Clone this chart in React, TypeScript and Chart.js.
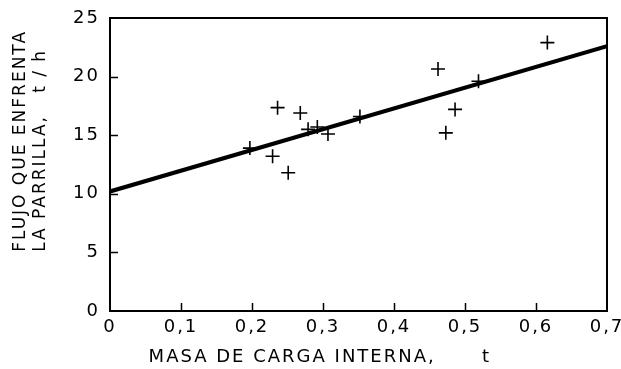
import React, { useEffect, useRef } from 'react';
import { Chart, registerables } from 'chart.js';

Chart.register(...registerables);

// Data
const masa = [0.197, 0.229, 0.236, 0.251, 0.268, 0.279, 0.292, 0.307, 0.352, 0.462, 0.473, 0.486, 0.519, 0.616];
const flujo = [13.9, 13.2, 17.35, 11.8, 16.9, 15.5, 15.7, 15.1, 16.6, 20.65, 15.2, 17.2, 19.6, 22.9];
const fitX = [0, 0.7];
const fitY = [10.2, 22.6];
const yTitle = ['        FLUJO QUE ENFRENTA', '        LA PARRILLA,   t / h'];
const xTitle = '     MASA DE CARGA INTERNA,      t';

const FONT = 'DejaVu Sans';

const framePlugin = {
  id: 'frame',
  beforeDraw(chart: any) {
    (chart.ctx as any).letterSpacing = '2px';
  },
  afterDraw(chart: any) {
    const { ctx, chartArea } = chart;
    const { left, right, top, bottom } = chartArea;
    ctx.save();
    ctx.strokeStyle = '#000';
    ctx.lineWidth = 2;
    ctx.strokeRect(left, top, right - left, bottom - top);
    ctx.lineWidth = 1.5;
    const xs = chart.scales.x;
    const ys = chart.scales.y;
    ctx.beginPath();
    xs.ticks.forEach((t: any) => {
      if (t.value <= xs.min || t.value >= xs.max - 1e-9) return;
      const px = Math.round(xs.getPixelForValue(t.value)) + 0.5;
      ctx.moveTo(px, bottom);
      ctx.lineTo(px, bottom - 8);
    });
    ys.ticks.forEach((t: any) => {
      if (t.value <= ys.min || t.value >= ys.max) return;
      const py = Math.round(ys.getPixelForValue(t.value)) + 0.5;
      ctx.moveTo(left, py);
      ctx.lineTo(left + 8, py);
    });
    ctx.stroke();
    ctx.restore();
  },
};

export default function App() {
  const ref = useRef<HTMLCanvasElement | null>(null);
  useEffect(() => {
    document.body.style.margin = '0';
    const canvas = ref.current!;
    const chart = new Chart(canvas, {
      type: 'scatter',
      data: {
        datasets: [
          {
            type: 'line',
            data: fitX.map((x, i) => ({ x, y: fitY[i] })),
            borderColor: '#000',
            borderWidth: 4,
            pointRadius: 0,
            fill: false,
          } as any,
          {
            data: masa.map((x, i) => ({ x, y: flujo[i] })),
            pointStyle: 'cross',
            pointRadius: 7,
            borderColor: '#000',
            backgroundColor: '#000',
            borderWidth: 1.6,
          },
        ],
      },
      options: {
        animation: false,
        responsive: false,
        devicePixelRatio: 1,
        layout: { padding: { top: 18, right: 14, bottom: 0, left: 0 } },
        plugins: { legend: { display: false }, tooltip: { enabled: false } },
        scales: {
          x: {
            type: 'linear',
            min: 0,
            max: 0.7,
            grid: { display: false, drawTicks: false },
            border: { display: false },
            ticks: {
              stepSize: 0.1,
              padding: 6,
              color: '#000',
              font: { family: FONT, size: 18 },
              maxRotation: 0,
              callback: (v: any) => (Number(v) === 0 ? '0' : Number(v).toFixed(1).replace('.', ',')),
            },
            title: {
              display: true,
              text: xTitle,
              align: 'start',
              color: '#000',
              font: { family: FONT, size: 18, lineHeight: 1.1 },
              padding: { top: 0, bottom: 2 },
            },
            afterFit: (s: any) => {
              s.height = 58;
              s.paddingLeft = 0;
              s.paddingRight = 0;
            },
          },
          y: {
            type: 'linear',
            min: 0,
            max: 25,
            grid: { display: false, drawTicks: false },
            border: { display: false },
            ticks: {
              stepSize: 5,
              padding: 10,
              color: '#000',
              font: { family: FONT, size: 18 },
            },
            title: {
              display: true,
              text: yTitle,
              align: 'start',
              color: '#000',
              font: { family: FONT, size: 17, lineHeight: 1.15 },
              padding: { top: 11, bottom: 0 },
            },
            afterFit: (s: any) => {
              s.width = 110;
              s.paddingTop = 0;
              s.paddingBottom = 0;
            },
          },
        },
      },
      plugins: [framePlugin],
    });
    return () => chart.destroy();
  }, []);
  return (
    <div style={{ width: 621, height: 369 }}>
      <canvas ref={ref} width={621} height={369} />
    </div>
  );
}
